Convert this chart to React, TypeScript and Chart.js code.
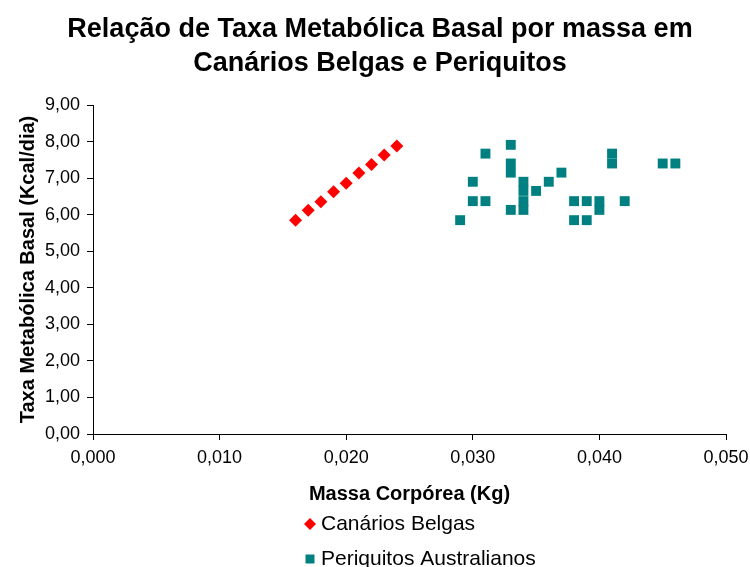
import React, { useEffect, useRef } from 'react';
import { Chart, registerables } from 'chart.js';

Chart.register(...registerables);

const TITLE_LINES = ['Relação de Taxa Metabólica Basal por massa em', 'Canários Belgas e Periquitos'];
const X_TITLE = 'Massa Corpórea (Kg)';
const Y_TITLE = 'Taxa Metabólica Basal (Kcal/dia)';
const SERIES_NAMES = ['Canários Belgas', 'Periquitos Australianos'];
const SERIES_COLORS = ['#FF0000', '#008080'];

const canaryMass = [0.016, 0.017, 0.018, 0.019, 0.020, 0.021, 0.022, 0.023, 0.024];
const canaryRate = [5.85, 6.12, 6.35, 6.63, 6.86, 7.14, 7.37, 7.63, 7.88];

const parakeetMass = [
  0.029, 0.030, 0.030, 0.031, 0.031, 0.033, 0.033, 0.033, 0.033,
  0.034, 0.034, 0.034, 0.034, 0.035, 0.036, 0.037, 0.038, 0.038,
  0.039, 0.039, 0.040, 0.040, 0.041, 0.041, 0.042, 0.045, 0.046,
];
const parakeetRate = [
  5.85, 6.90, 6.37, 7.67, 6.37, 7.91, 7.40, 7.15, 6.13,
  6.90, 6.65, 6.37, 6.13, 6.65, 6.90, 7.15, 6.37, 5.85,
  6.37, 5.85, 6.37, 6.13, 7.67, 7.40, 6.37, 7.40, 7.40,
];

const X_MIN = 0;
const X_MAX = 0.05;
const X_STEP = 0.01;
const Y_MIN = 0;
const Y_MAX = 9;
const Y_STEP = 1;

const FONT = '"Liberation Sans", Arial, Helvetica, sans-serif';

const legendPlugin = {
  id: 'stackedLegend',
  afterDraw(chart: any) {
    const ctx = chart.ctx;
    const startX = 310;
    const textX = 321;
    const startY = 524;
    const gap = 35;
    ctx.save();
    ctx.font = `21px ${FONT}`;
    ctx.textBaseline = 'middle';
    ctx.textAlign = 'left';
    chart.data.datasets.forEach((ds: any, i: number) => {
      const y = startY + i * gap;
      ctx.fillStyle = ds.backgroundColor;
      ctx.beginPath();
      if (ds.pointStyle === 'rectRot') {
        const r = 6;
        ctx.moveTo(startX, y - r);
        ctx.lineTo(startX + r, y);
        ctx.lineTo(startX, y + r);
        ctx.lineTo(startX - r, y);
        ctx.closePath();
      } else {
        const h = 4.5;
        ctx.rect(startX - h, y - h, 2 * h, 2 * h);
      }
      ctx.fill();
      ctx.fillStyle = '#000';
      ctx.fillText(ds.label, textX, y);
    });
    ctx.restore();
  },
};

export default function App() {
  const ref = useRef<HTMLCanvasElement | null>(null);

  useEffect(() => {
    document.body.style.margin = '0';
    const canvas = ref.current;
    if (!canvas) return;
    const chart = new Chart(canvas, {
      type: 'scatter',
      data: {
        datasets: [
          {
            label: SERIES_NAMES[0],
            data: canaryMass.map((x, i) => ({ x, y: canaryRate[i] })),
            backgroundColor: SERIES_COLORS[0],
            borderColor: SERIES_COLORS[0],
            borderWidth: 0,
            pointStyle: 'rectRot',
            pointRadius: 6.5,
          },
          {
            label: SERIES_NAMES[1],
            data: parakeetMass.map((x, i) => ({ x, y: parakeetRate[i] })),
            backgroundColor: SERIES_COLORS[1],
            borderColor: SERIES_COLORS[1],
            borderWidth: 0,
            pointStyle: 'rect',
            pointRadius: 7,
          },
        ],
      },
      options: {
        responsive: false,
        animation: false,
        devicePixelRatio: 1,
        layout: { padding: { left: 10, right: 0, top: 0, bottom: 57 } },
        plugins: {
          legend: { display: false },
          tooltip: { enabled: false },
          title: {
            display: true,
            text: TITLE_LINES,
            color: '#000',
            font: { family: FONT, size: 27, weight: 'bold', lineHeight: 34 / 27 },
            padding: { top: 13, bottom: 24 },
          },
        },
        scales: {
          x: {
            type: 'linear',
            min: X_MIN,
            max: X_MAX,
            afterFit: (s: any) => { s.height = 76; s.paddingRight = 24; s.paddingLeft = 0; },
            ticks: {
              stepSize: X_STEP,
              color: '#000',
              font: { family: FONT, size: 18 },
              padding: 7,
              maxRotation: 0,
              callback: (v: any) => Number(v).toFixed(3).replace('.', ','),
            },
            grid: { drawOnChartArea: false, drawTicks: true, tickLength: 6, color: '#000' },
            border: { display: true, color: '#000', width: 1 },
            title: {
              display: true,
              text: X_TITLE,
              color: '#000',
              font: { family: FONT, size: 20, weight: 'bold', lineHeight: 1.2 },
              padding: { top: 0, bottom: 4 },
            },
          },
          y: {
            type: 'linear',
            min: Y_MIN,
            max: Y_MAX,
            afterFit: (s: any) => { s.width = 83; },
            ticks: {
              stepSize: Y_STEP,
              color: '#000',
              font: { family: FONT, size: 18 },
              padding: 7,
              callback: (v: any) => Number(v).toFixed(2).replace('.', ','),
            },
            grid: { drawOnChartArea: false, drawTicks: true, tickLength: 6, color: '#000' },
            border: { display: true, color: '#000', width: 1 },
            title: {
              display: true,
              text: Y_TITLE,
              color: '#000',
              font: { family: FONT, size: 20, weight: 'bold', lineHeight: 1.2 },
              padding: { top: 6, bottom: 0 },
            },
          },
        },
      },
      plugins: [legendPlugin],
    } as any);
    return () => chart.destroy();
  }, []);

  return (
    <div style={{ width: 750, height: 567 }}>
      <canvas ref={ref} width={750} height={567} style={{ display: 'block' }} />
    </div>
  );
}
